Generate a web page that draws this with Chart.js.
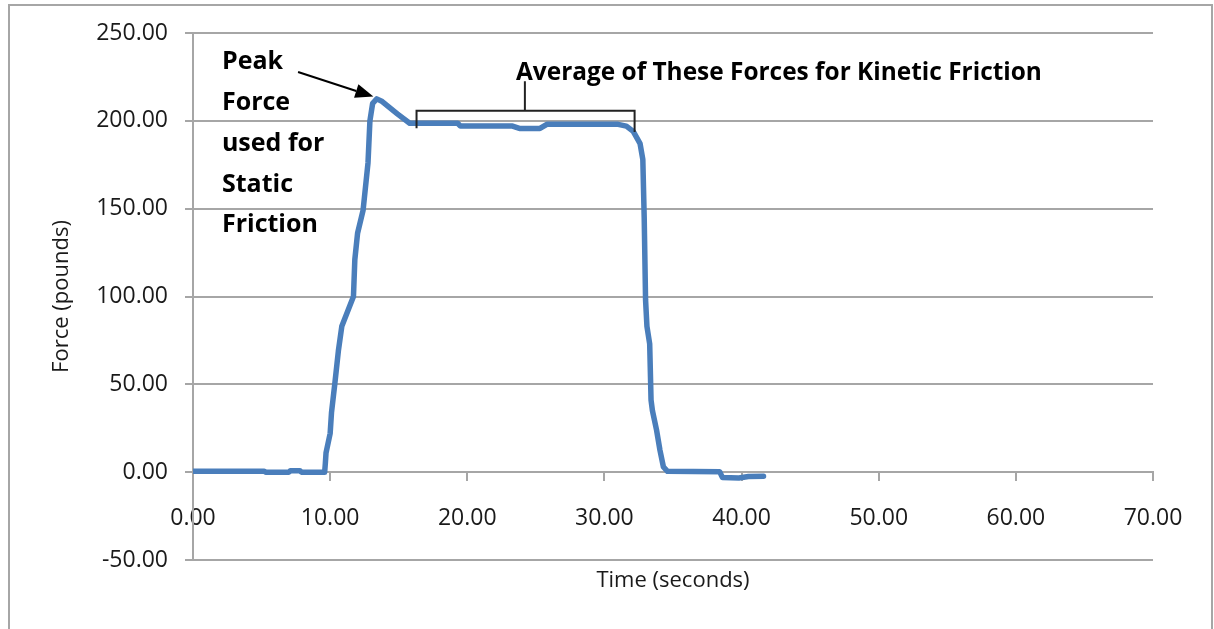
<!DOCTYPE html>
<html>
<head>
<meta charset="utf-8">
<script src="https://cdn.jsdelivr.net/npm/chart.js@4.4.1/dist/chart.umd.min.js"></script>
<style>
  html, body { margin: 0; padding: 0; background: #ffffff; }
  #wrap { width: 1214px; height: 629px; position: relative; }
</style>
</head>
<body>
<div id="wrap"><canvas id="c" width="1214" height="629"></canvas></div>
<script>
// ---- data ----
const times = [0.0, 5.2, 5.3, 7.0, 7.1, 7.8, 7.9, 9.6, 9.65, 9.7, 10.0, 10.1, 10.35, 10.6, 10.85, 11.3, 11.7, 11.8, 12.0, 12.4, 12.76, 12.9, 13.1, 13.4, 13.8, 14.9, 15.8, 19.3, 19.5, 23.3, 23.8, 25.3, 25.8, 31.0, 31.6, 32.1, 32.6, 32.8, 32.9, 33.0, 33.1, 33.3, 33.4, 33.5, 33.8, 34.05, 34.3, 34.6, 38.4, 38.6, 39.8, 40.5, 41.6];
const forces = [0.5, 0.5, 0.0, 0.0, 0.8, 0.8, 0.0, 0.0, 5, 11, 22, 34, 51, 69, 83, 92, 100, 121, 136, 149, 176, 200, 210, 212.5, 211, 204, 198.6, 198.6, 197, 197, 195.7, 195.7, 198, 198, 197, 194, 187, 178, 145, 98, 83, 73, 41, 35, 24, 12.5, 3, 0.5, 0.3, -3, -3.3, -2.5, -2.3];
const yTicks = [-50, 0, 50, 100, 150, 200, 250];
const xTicks = [0, 10, 20, 30, 40, 50, 60, 70];
const xTitle = "Time (seconds)";
const yTitle = "Force (pounds)";
const peakLines = ["Peak", "Force", "used for", "Static", "Friction"];
const avgLabel = "Average of These Forces for Kinetic Friction";
// annotation anchors in data units
const peakTextX = 2.11;
const peakTextY = [233.4, 210.1, 186.7, 163.4, 140.6];
const arrowFrom = [7.66, 227.8];
const arrowTo = [13.15, 213.8];
const bracketX = [16.3, 24.2, 32.2];
const bracketTopY = 205.8;
const bracketLeftBottomY = 195.8;
const bracketRightBottomY = 193.6;
const bracketStemTopY = 222.5;
const avgTextX = 23.55;
const avgTextY = 227.1;
const avgTextRight = 61.9;

const points = times.map((t, i) => ({ x: t, y: forces[i] }));

const FONT = "'Open Sans', 'DejaVu Sans', sans-serif";
const GRID = '#a6a6a6';
const TEXT = '#1a1a1a';

const decor = {
  id: 'decor',
  beforeDraw(chart) {
    const ctx = chart.ctx;
    ctx.save();
    ctx.fillStyle = '#ffffff';
    ctx.fillRect(0, 0, chart.width, chart.height);
    ctx.strokeStyle = '#a6a6a6';
    ctx.lineWidth = 2;
    ctx.strokeRect(9, 5, 1203, 640);
    ctx.restore();
  },
  afterDraw(chart) {
    const ctx = chart.ctx;
    const xs = chart.scales.x, ys = chart.scales.y;
    const ca = chart.chartArea;
    const px = v => xs.getPixelForValue(v);
    const py = v => ys.getPixelForValue(v);
    ctx.save();
    // axis titles
    ctx.fillStyle = TEXT;
    ctx.font = "22px " + FONT;
    ctx.textAlign = 'center';
    ctx.textBaseline = 'middle';
    ctx.fillText(xTitle, (ca.left + ca.right) / 2, ca.bottom + 21);
    ctx.save();
    ctx.translate(62, (ca.top + ca.bottom) / 2);
    ctx.rotate(-Math.PI / 2);
    ctx.fillText(yTitle, 0, 0);
    ctx.restore();

    // peak annotation text
    ctx.font = "bold 25px " + FONT;
    ctx.textAlign = 'left';
    ctx.fillStyle = '#000000';
    peakLines.forEach((s, i) => ctx.fillText(s, px(peakTextX), py(peakTextY[i])));

    // average annotation text (fitted to its width)
    const w = ctx.measureText(avgLabel).width;
    const target = px(avgTextRight) - px(avgTextX);
    const sx = target / w;
    ctx.save();
    ctx.translate(px(avgTextX), py(avgTextY));
    ctx.scale(sx, 1);
    ctx.fillText(avgLabel, 0, 0);
    ctx.restore();

    // arrow
    const x1 = px(arrowFrom[0]), y1 = py(arrowFrom[1]);
    const x2 = px(arrowTo[0]), y2 = py(arrowTo[1]);
    const ang = Math.atan2(y2 - y1, x2 - x1);
    const hl = 18, hw = 7;
    ctx.strokeStyle = '#000000';
    ctx.lineWidth = 2;
    ctx.beginPath();
    ctx.moveTo(x1, y1);
    ctx.lineTo(x2 - hl * Math.cos(ang), y2 - hl * Math.sin(ang));
    ctx.stroke();
    ctx.beginPath();
    ctx.moveTo(x2, y2);
    ctx.lineTo(x2 - hl * Math.cos(ang) + hw * Math.sin(ang), y2 - hl * Math.sin(ang) - hw * Math.cos(ang));
    ctx.lineTo(x2 - hl * Math.cos(ang) - hw * Math.sin(ang), y2 - hl * Math.sin(ang) + hw * Math.cos(ang));
    ctx.closePath();
    ctx.fillStyle = '#000000';
    ctx.fill();

    // bracket
    ctx.strokeStyle = '#222222';
    ctx.lineWidth = 2;
    ctx.beginPath();
    ctx.moveTo(px(bracketX[0]), py(bracketLeftBottomY));
    ctx.lineTo(px(bracketX[0]), py(bracketTopY));
    ctx.lineTo(px(bracketX[2]), py(bracketTopY));
    ctx.lineTo(px(bracketX[2]), py(bracketRightBottomY));
    ctx.moveTo(px(bracketX[1]), py(bracketTopY));
    ctx.lineTo(px(bracketX[1]), py(bracketStemTopY));
    ctx.stroke();
    ctx.restore();
  }
};

new Chart(document.getElementById('c'), {
  type: 'scatter',
  data: {
    datasets: [{
      data: points,
      showLine: true,
      borderColor: '#4a7ebb',
      backgroundColor: '#4a7ebb',
      borderWidth: 5.5,
      pointRadius: 0,
      tension: 0,
      borderJoinStyle: 'round',
      borderCapStyle: 'round'
    }]
  },
  options: {
    responsive: false,
    animation: false,
    devicePixelRatio: 1,
    layout: { padding: { left: 0, right: 61, top: 33, bottom: 69 } },
    plugins: { legend: { display: false }, tooltip: { enabled: false }, title: { display: false } },
    scales: {
      x: {
        type: 'linear',
        min: 0, max: 70,
        position: { y: 0 },
        afterBuildTicks: s => { s.ticks = xTicks.map(v => ({ value: v })); },
        ticks: {
          callback: v => Number(v).toFixed(2),
          font: { family: FONT, size: 23 },
          color: TEXT,
          padding: 24,
          maxRotation: 0,
          autoSkip: false
        },
        grid: { display: true, drawOnChartArea: false, drawTicks: true, tickLength: 8, color: GRID, lineWidth: 2 },
        border: { display: true, color: GRID, width: 2 }
      },
      y: {
        type: 'linear',
        min: -50, max: 250,
        afterBuildTicks: s => { s.ticks = yTicks.map(v => ({ value: v })); },
        afterFit: s => { s.width = 193; },
        ticks: {
          callback: v => Number(v).toFixed(2),
          font: { family: FONT, size: 23 },
          color: TEXT,
          padding: 17,
          autoSkip: false
        },
        grid: { display: true, drawTicks: true, tickLength: 8, color: GRID, lineWidth: 2 },
        border: { display: true, color: GRID, width: 2 }
      }
    }
  },
  plugins: [decor]
});
</script>
</body>
</html>
